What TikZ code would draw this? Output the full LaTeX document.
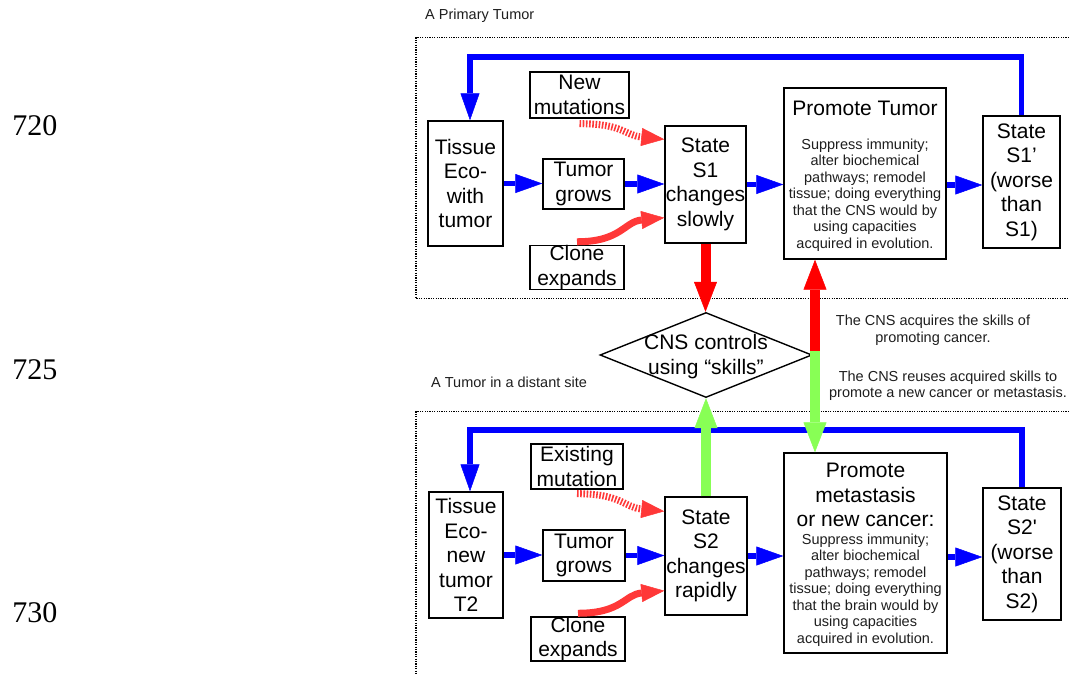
\documentclass[tikz,border=0pt]{standalone}
\usepackage{fontspec}
\setmainfont{Liberation Sans}
\newfontfamily\numfont{Liberation Serif}
\usetikzlibrary{arrows.meta,shapes.geometric}
\definecolor{fbblue}{RGB}{0,0,255}
\definecolor{sred}{RGB}{255,0,0}
\definecolor{cred}{RGB}{255,56,56}
\definecolor{sgreen}{RGB}{136,255,85}
\definecolor{txtgray}{RGB}{30,30,30}
\begin{document}
\begin{tikzpicture}[x=1pt,y=-1pt,
  box/.style={draw=black, line width=1.4pt, inner sep=0pt, align=center, font=\fontsize{21}{24.5}\selectfont},
  bigtxt/.style={font=\fontsize{21}{24.5}\selectfont, align=center, inner sep=0pt},
  smalltxt/.style={font=\fontsize{14.5}{16.5}\selectfont, align=center, inner sep=0pt, text=txtgray},
  numtxt/.style={font=\numfont\fontsize{30}{30}\selectfont, inner sep=0pt},
  dotbox/.style={draw=black, line width=1.2pt, dash pattern=on 1.2pt off 1.2pt},
  bluearrow/.style={draw=fbblue, line width=5.5pt, -{Triangle[length=27pt,width=19pt,line width=0.5pt]}},
  redarrow/.style={draw=sred, line width=10pt, -{Triangle[length=30pt,width=23pt,line width=0.5pt]}},
  greenarrow/.style={draw=sgreen, line width=10pt, -{Triangle[length=30pt,width=23pt,line width=0.5pt]}},
  curvearrow/.style={draw=cred, line width=7pt, -{Triangle[length=23pt,width=18pt,line width=0.5pt]}},
  stripearrow/.style={curvearrow, dash pattern=on 1.6pt off 1.6pt},
]
\useasboundingbox (0,0) rectangle (1069,673);

% line numbers
\node[numtxt] (n720) at (35,126) {720};
\node[numtxt] (n725) at (35,370) {725};
\node[numtxt] (n730) at (35,613) {730};

% frames and labels
\draw[dotbox] (1069,37.5) -- (416,37.5) -- (416,298.5) -- (1069,298.5);
\draw[dotbox] (1069,411.5) -- (416,411.5) -- (416,673);
\node[smalltxt, anchor=west] (lab1) at (425,16) {A Primary Tumor};
\node[smalltxt, anchor=west] (lab2) at (431,382) {A Tumor in a distant site};

% top row
\node[box, minimum width=75pt, minimum height=125pt] (tis1) at (465.5,183.5) {Tissue\\Eco-\\with\\tumor};
\node[box, minimum width=99pt, minimum height=46pt] (nm) at (579.5,95) {New\\mutations};
\node[box, minimum width=81pt, minimum height=50pt] (tg1) at (583.5,184) {Tumor\\grows};
\node[box, minimum width=94pt, minimum height=43pt] (ce1) at (577,267.5) {Clone\\expands};
\node[box, minimum width=81pt, minimum height=117pt] (s1) at (705.5,184.5) {State\\S1\\changes\\slowly};
\node[box, minimum width=162pt, minimum height=171pt] (pt) at (865,173.5) {};
\node[bigtxt] (ptt) at (865,108) {Promote Tumor};
\node[smalltxt] (ptb) at (865,195) {Suppress immunity;\\alter biochemical\\pathways; remodel\\tissue; doing everything\\that the CNS would by\\using capacities\\acquired in evolution.};
\node[box, minimum width=77pt, minimum height=132pt] (s1p) at (1021.5,182) {State\\S1’\\(worse\\than\\S1)};

% diamond
\node[diamond, draw=black, line width=1.4pt, inner sep=0pt, minimum width=212pt, minimum height=85pt] (dia) at (706,355) {};
\node[bigtxt] (diat) at (706,356.5) {CNS controls\\using “skills”};
\coordinate (jn) at (815,351);

\node[smalltxt] (ex1) at (933,330) {The CNS acquires the skills of\\promoting cancer.};
\node[smalltxt] (ex2) at (948,385.5) {The CNS reuses acquired skills to\\promote a new cancer or metastasis.};

% bottom row
\node[box, minimum width=74pt, minimum height=126pt] (tis2) at (466,555) {Tissue\\Eco-\\new\\tumor\\T2};
\node[box, minimum width=92pt, minimum height=45pt] (em) at (577,466.5) {Existing\\mutation};
\node[box, minimum width=82pt, minimum height=51pt] (tg2) at (584,555.5) {Tumor\\grows};
\node[box, minimum width=94pt, minimum height=44pt] (ce2) at (578,639) {Clone\\expands};
\node[box, minimum width=82pt, minimum height=118pt] (s2) at (706,556) {State\\S2\\changes\\rapidly};
\node[box, minimum width=163pt, minimum height=200pt] (pm) at (865.5,553) {};
\node[bigtxt] (pmt) at (865.5,495) {Promote\\metastasis\\or new cancer:};
\node[smalltxt] (pmb) at (865.5,590) {Suppress immunity;\\alter biochemical\\pathways; remodel\\tissue; doing everything\\that the brain would by\\using capacities\\acquired in evolution.};
\node[box, minimum width=78pt, minimum height=132pt] (s2p) at (1022,554) {State\\S2\textquotesingle\\(worse\\than\\S2)};

% feedback loops
\coordinate (fb1) at (470,57);
\coordinate (fb2) at (470,430);
\draw[bluearrow] (s1p.north) |- (fb1) -- (fb1 |- tis1.north);
\draw[bluearrow] (s2p.north) |- (fb2) -- (fb2 |- tis2.north);

% top arrows
\draw[bluearrow] (tis1.east) -- (tis1.east -| tg1.west);
\draw[bluearrow] (tg1.east) -- (tg1.east -| s1.west);
\draw[bluearrow] (s1.east) -- (s1.east -| pt.west);
\draw[bluearrow] ([yshift=-3pt]s1p.west -| pt.east) -- ([yshift=-3pt]s1p.west);
\draw[stripearrow] ([yshift=-5pt]nm.south) .. controls +(44,0) and +(-40,-4) .. ([yshift=-14pt]s1.north west);
\draw[curvearrow] ([yshift=3pt]ce1.north) .. controls +(44,0) and +(-40,4) .. ([yshift=26pt]s1.south west);

% bottom arrows
\draw[bluearrow] (tis2.east) -- (tis2.east -| tg2.west);
\draw[bluearrow] (tg2.east) -- (tg2.east -| s2.west);
\draw[bluearrow] (s2.east) -- (s2.east -| pm.west);
\draw[bluearrow] ([yshift=-3pt]s2p.west -| pm.east) -- ([yshift=-3pt]s2p.west);
\draw[stripearrow] ([yshift=-4pt]em.south) .. controls +(44,0) and +(-40,-4) .. ([yshift=-15pt]s2.north west);
\draw[curvearrow] ([yshift=3pt]ce2.north) .. controls +(44,0) and +(-40,4) .. ([yshift=25pt]s2.south west);

% CNS arrows
\draw[redarrow] (s1.south) -- (s1.south |- dia.north);
\draw[greenarrow] (s2.north) -- (s2.north |- dia.south);
\draw[redarrow] (jn) -- (jn |- pt.south);
\draw[greenarrow] (jn) -- (jn |- pm.north);
\end{tikzpicture}
\end{document}
